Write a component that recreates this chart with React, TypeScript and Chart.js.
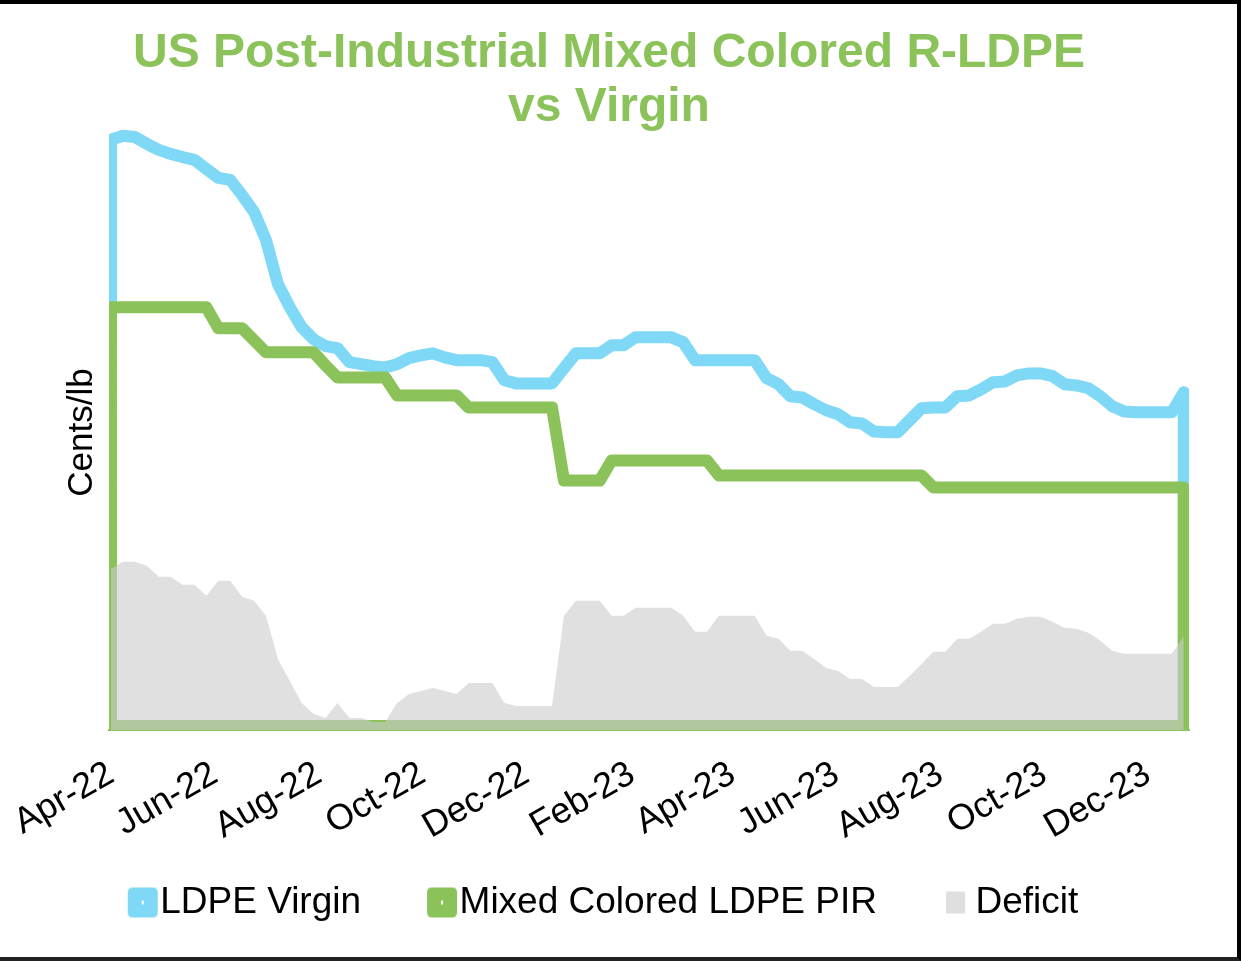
import React, { useEffect, useRef } from 'react';
import { Chart, registerables } from 'chart.js';

Chart.register(...registerables);

// ---------------- data ----------------
const startDate = '2022-04-01'; // first weekly observation (x = week index 0)
const tickDates = [
  '2022-04-01', '2022-06-01', '2022-08-01', '2022-10-01', '2022-12-01',
  '2023-02-01', '2023-04-01', '2023-06-01', '2023-08-01', '2023-10-01', '2023-12-01',
];
const tickLabels = [
  'Apr-22', 'Jun-22', 'Aug-22', 'Oct-22', 'Dec-22',
  'Feb-23', 'Apr-23', 'Jun-23', 'Aug-23', 'Oct-23', 'Dec-23',
];

// weekly values, cents/lb
const ldpeVirgin = [
  146.3, 147.3, 147, 145.3, 143.8, 142.8, 142, 141.3, 139, 136.8,
  136.3, 132.5, 128.3, 121.3, 110.3, 104.5, 99.5, 96.5, 94.8, 94.3,
  90.8, 90.3, 89.8, 89.5, 90.3, 91.8, 92.5, 93, 92, 91.3,
  91.3, 91.3, 90.8, 86.3, 85.5, 85.5, 85.5, 85.5, 89.3, 93,
  93, 93, 95, 95, 97, 97, 97, 97, 95.8, 91.3,
  91.3, 91.3, 91.3, 91.3, 91.3, 86.8, 85.3, 82.3, 82, 80.3,
  78.8, 77.8, 75.8, 75.5, 73.5, 73.3, 73.3, 76.3, 79.3, 79.5,
  79.5, 82.3, 82.5, 84, 85.8, 86, 87.5, 88, 88, 87.3,
  85.3, 85, 84.3, 82.3, 79.8, 78.5, 78.3, 78.3, 78.3, 78.3,
  83.3,
];

const mixedColoredPIR = [
  104.5, 104.5, 104.5, 104.5, 104.5, 104.5, 104.5, 104.5, 104.5, 99.25,
  99.25, 99.25, 96.25, 93.25, 93.25, 93.25, 93.25, 93.25, 90, 87,
  87, 87, 87, 87, 82.5, 82.5, 82.5, 82.5, 82.5, 82.5,
  79.5, 79.5, 79.5, 79.5, 79.5, 79.5, 79.5, 79.5, 61.25, 61.25,
  61.25, 61.25, 66.25, 66.25, 66.25, 66.25, 66.25, 66.25, 66.25, 66.25,
  66.25, 62.5, 62.5, 62.5, 62.5, 62.5, 62.5, 62.5, 62.5, 62.5,
  62.5, 62.5, 62.5, 62.5, 62.5, 62.5, 62.5, 62.5, 62.5, 59.5,
  59.5, 59.5, 59.5, 59.5, 59.5, 59.5, 59.5, 59.5, 59.5, 59.5,
  59.5, 59.5, 59.5, 59.5, 59.5, 59.5, 59.5, 59.5, 59.5, 59.5,
  59.5,
];

const deficit = [
  39.25, 41, 41, 40, 37.25, 37.25, 35.25, 35.25, 32.5, 36.25,
  36.25, 32.25, 31.25, 27.5, 16.75, 11.25, 5.75, 3, 2, 5.75,
  2, 2, 1, 1, 5.75, 8, 8.75, 9.5, 8.75, 8,
  10.75, 10.75, 10.75, 5.75, 5, 5, 5, 5, 27.5, 31.25,
  31.25, 31.25, 27.5, 27.5, 29.5, 29.5, 29.5, 29.5, 27.5, 23.5,
  23.5, 27.5, 27.5, 27.5, 27.5, 22.5, 21.75, 18.75, 18.75, 16.75,
  14.5, 13.75, 11.75, 11.75, 9.75, 9.75, 9.75, 12.5, 15.5, 18.5,
  18.5, 21.75, 21.75, 23.5, 25.5, 25.5, 26.75, 27.25, 27.25, 26,
  24.5, 24.25, 23.25, 21.25, 18.75, 18, 18, 18, 18, 18,
  22.25,
];

const seriesLabels = ['LDPE Virgin', 'Mixed Colored LDPE PIR', 'Deficit'];
const titleLines = ['US Post-Industrial Mixed Colored R-LDPE', 'vs Virgin'];
const yAxisTitle = 'Cents/lb';

// ---------------- styles ----------------
const FONT = "'Liberation Sans', Arial, Helvetica, sans-serif";
const BLUE = '#7FD8F6';
const GREEN = '#8BC25A';
const GRAY_FILL = 'rgba(203,203,203,0.6)';
const GRAY_LEGEND = '#DFDFDF';

const WEEK_MS = 7 * 24 * 3600 * 1000;
const weekOf = (d: string) => (Date.parse(d) - Date.parse(startDate)) / WEEK_MS;
const tickValues = tickDates.map(weekOf);

// area outline as an Excel-like closed polygon along the zero baseline
function outline(values: number[]) {
  const last = values.length - 1;
  return [
    { x: 0, y: 0 },
    ...values.map((v, i) => ({ x: i, y: v })),
    { x: last, y: 0 },
    { x: 0, y: 0 },
  ];
}

function makeIcon(color: string, kind: 'line' | 'area') {
  const c = document.createElement('canvas');
  c.width = 36;
  c.height = 32;
  const ctx = c.getContext('2d')!;
  if (kind === 'line') {
    ctx.fillStyle = color;
    ctx.beginPath();
    const x = 5, y = 1, w = 30, h = 30, r = 5;
    ctx.moveTo(x + r, y);
    ctx.lineTo(x + w - r, y);
    ctx.quadraticCurveTo(x + w, y, x + w, y + r);
    ctx.lineTo(x + w, y + h - r);
    ctx.quadraticCurveTo(x + w, y + h, x + w - r, y + h);
    ctx.lineTo(x + r, y + h);
    ctx.quadraticCurveTo(x, y + h, x, y + h - r);
    ctx.lineTo(x, y + r);
    ctx.quadraticCurveTo(x, y, x + r, y);
    ctx.closePath();
    ctx.fill();
    ctx.fillStyle = '#ffffff';
    ctx.fillRect(19, 14, 2, 4);
  } else {
    ctx.fillStyle = color;
    ctx.fillRect(8, 5, 19, 22);
  }
  return c;
}

export default function App() {
  const canvasRef = useRef<HTMLCanvasElement | null>(null);

  useEffect(() => {
    const canvas = canvasRef.current;
    if (!canvas) return;
    Chart.defaults.font.family = FONT;

    const icons = [makeIcon(BLUE, 'line'), makeIcon(GREEN, 'line'), makeIcon(GRAY_LEGEND, 'area')];
    const lineClip = { left: 0, top: 14, right: 0, bottom: 0 };

    const chart = new Chart(canvas, {
      type: 'line',
      data: {
        datasets: [
          {
            label: seriesLabels[0],
            data: outline(ldpeVirgin),
            borderColor: BLUE,
            backgroundColor: BLUE,
            borderWidth: 12,
            borderJoinStyle: 'round',
            borderCapStyle: 'round',
            pointRadius: 0,
            tension: 0,
            fill: false,
            clip: lineClip,
            order: 3,
          },
          {
            label: seriesLabels[1],
            data: outline(mixedColoredPIR),
            borderColor: GREEN,
            backgroundColor: GREEN,
            borderWidth: 12,
            borderJoinStyle: 'round',
            borderCapStyle: 'round',
            pointRadius: 0,
            tension: 0,
            fill: false,
            clip: lineClip,
            order: 2,
          },
          {
            label: seriesLabels[2],
            data: deficit.map((v, i) => ({ x: i, y: v })),
            borderColor: 'rgba(0,0,0,0)',
            backgroundColor: GRAY_FILL,
            borderWidth: 0,
            pointRadius: 0,
            tension: 0,
            fill: 'start',
            order: 1,
          },
        ],
      },
      options: {
        responsive: false,
        animation: false,
        events: [],
        layout: { padding: { left: 29, right: 52, top: 27, bottom: 30 } },
        plugins: {
          title: {
            display: true,
            text: titleLines,
            color: GREEN,
            font: { family: FONT, size: 48, weight: 'bold', lineHeight: 1.125 },
            padding: { top: 0, bottom: 0 },
          },
          legend: {
            position: 'bottom',
            labels: {
              usePointStyle: true,
              boxWidth: 2,
              boxHeight: 37,
              padding: 78,
              color: '#000000',
              font: { family: FONT, size: 37 },
              generateLabels: (ch: any) =>
                ch.data.datasets.map((ds: any, i: number) => ({
                  text: ds.label,
                  pointStyle: icons[i],
                  fillStyle: ds.backgroundColor,
                  strokeStyle: ds.borderColor,
                  lineWidth: 0,
                  hidden: false,
                  datasetIndex: i,
                  fontColor: '#000000',
                })),
            },
          },
          tooltip: { enabled: false },
        },
        scales: {
          x: {
            type: 'linear',
            min: -0.17,
            max: 90.44,
            grid: { display: false, drawTicks: false },
            border: { display: true, color: GREEN, width: 2 },
            ticks: {
              autoSkip: false,
              minRotation: 30,
              maxRotation: 30,
              padding: 23,
              color: '#000000',
              font: { family: FONT, size: 36 },
              callback: (_v: any, i: number) => tickLabels[i],
            },
            afterBuildTicks: (scale: any) => {
              scale.ticks = tickValues.map((v) => ({ value: v }));
            },
            afterFit: (scale: any) => {
              scale.height = 76;
              scale.paddingLeft = 0;
              scale.paddingRight = 0;
              // let rotated labels spill below the axis box (no label clipping)
              scale._computeLabelArea = () => undefined;
            },
          },
          y: {
            type: 'linear',
            min: -1,
            max: 147.5,
            grid: { display: false, drawTicks: false },
            border: { display: false },
            ticks: { display: false },
            title: {
              display: true,
              text: yAxisTitle,
              color: '#000000',
              font: { family: FONT, size: 35, lineHeight: 1.2 },
              padding: { top: 32, bottom: 6 },
            },
          },
        },
      } as any,
    });

    return () => chart.destroy();
  }, []);

  return (
    <div style={{ position: 'fixed', left: 0, top: 0, width: 1241, height: 961, background: '#ffffff' }}>
      <canvas
        ref={canvasRef}
        width={1241}
        height={961}
        style={{ position: 'absolute', left: 0, top: 0, width: 1241, height: 961 }}
      />
      <div
        style={{
          position: 'absolute',
          left: 0,
          top: 0,
          width: 1241,
          height: 961,
          boxSizing: 'border-box',
          borderTop: '4px solid #000',
          borderRight: '4px solid #000',
          borderBottom: '4px solid #222',
          pointerEvents: 'none',
        }}
      />
    </div>
  );
}
